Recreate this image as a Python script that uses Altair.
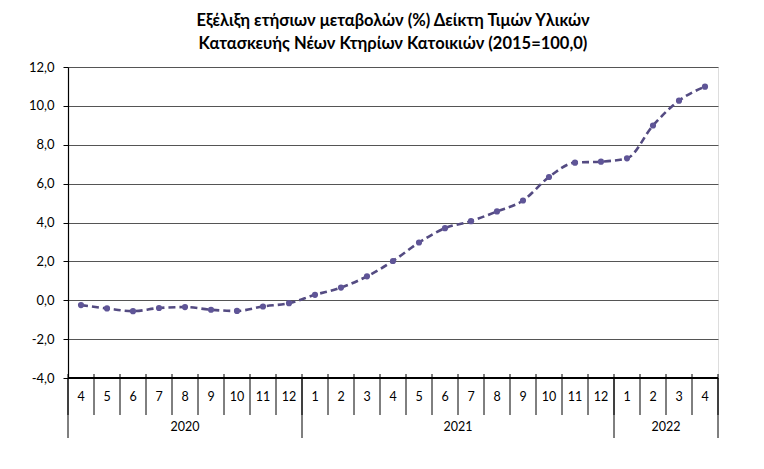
import altair as alt
import pandas as pd

months = ["4", "5", "6", "7", "8", "9", "10", "11", "12",
          "1", "2", "3", "4", "5", "6", "7", "8", "9", "10", "11", "12",
          "1", "2", "3", "4"]
values = [-0.25, -0.42, -0.56, -0.40, -0.35, -0.49, -0.55, -0.32, -0.15,
          0.28, 0.65, 1.23, 2.02, 2.97, 3.71, 4.07, 4.57, 5.13, 6.34, 7.08, 7.13,
          7.30, 8.99, 10.27, 10.99]
years = ["2020", "2021", "2022"]
year_start = [0, 9, 21]
year_end = [9, 21, 25]
y_ticks = [-4, -2, 0, 2, 4, 6, 8, 10, 12]

FONT = "Lato"
W, H = 650, 311

df = pd.DataFrame({"pos": [i + 0.5 for i in range(len(months))],
                   "month": months, "value": values})
bounds = pd.DataFrame({"b": list(range(len(months) + 1))})
ydf = pd.DataFrame({"year": years, "start": year_start, "end": year_end})
ydf["mid"] = (ydf["start"] + ydf["end"]) / 2
ybounds = pd.DataFrame({"b": sorted(set(year_start + year_end))})

xs = alt.Scale(domain=[0, 25], nice=False, zero=False)
ys = alt.Scale(domain=[-4, 12], nice=False, zero=False)

label_expr = "(datum.value < 0 ? '-' : '') + replace(format(abs(datum.value), '.1f'), '.', ',')"

yaxis = alt.Axis(
    values=y_ticks, labelExpr=label_expr, labelOverlap=False,
    grid=True, gridColor="#555555", gridWidth=1,
    domainColor="#000000", domainWidth=1.2, tickColor="#000000", tickSize=5,
    labelFont=FONT, labelFontSize=13, labelColor="#000000", labelPadding=9,
    title=None)

line = alt.Chart(df).mark_line(
    color="#544b82", strokeWidth=2.6, strokeDash=[7, 4], interpolate="monotone"
).encode(
    x=alt.X("pos:Q", scale=xs, axis=None),
    y=alt.Y("value:Q", scale=ys, axis=yaxis),
)
pts = alt.Chart(df).mark_point(
    filled=True, size=38, color="#5f5597", opacity=1
).encode(x=alt.X("pos:Q", scale=xs, axis=None),
         y=alt.Y("value:Q", scale=ys, axis=yaxis))

sep = alt.Chart(bounds).mark_rule(color="#000000", strokeWidth=1).encode(
    x=alt.X("b:Q", scale=xs, axis=None), y=alt.value(H - 4), y2=alt.value(H + 37))
ysep = alt.Chart(ybounds).mark_rule(color="#000000", strokeWidth=1).encode(
    x=alt.X("b:Q", scale=xs, axis=None), y=alt.value(H), y2=alt.value(H + 60))
base = alt.Chart(bounds).mark_rule(color="#000000", strokeWidth=1.2).encode(
    x=alt.value(0), x2=alt.value(W), y=alt.value(H))
mlab = alt.Chart(df).mark_text(font=FONT, fontSize=12.5, color="#000000").encode(
    x=alt.X("pos:Q", scale=xs, axis=None), y=alt.value(H + 19), text="month:N")
ylab = alt.Chart(ydf).mark_text(font=FONT, fontSize=12.5, color="#000000").encode(
    x=alt.X("mid:Q", scale=xs, axis=None), y=alt.value(H + 49), text="year:N")

chart = alt.layer(line, pts, sep, ysep, base, mlab, ylab).properties(
    width=W, height=H,
    title=alt.TitleParams(
        ["Εξέλιξη ετήσιων μεταβολών (%) Δείκτη Τιμών Υλικών",
         "Κατασκευής Νέων Κτηρίων Κατοικιών (2015=100,0)"],
        font=FONT, fontSize=16.5, fontWeight="bold", color="#000000",
        anchor="middle", offset=9, lineHeight=23),
    autosize=alt.AutoSizeParams(type="none"),
    padding={"left": 60, "top": 59, "right": 38, "bottom": 90},
).configure_view(stroke=None).configure(background="#ffffff")

chart.save("out.html", embed_options={"renderer": "svg", "actions": False})
